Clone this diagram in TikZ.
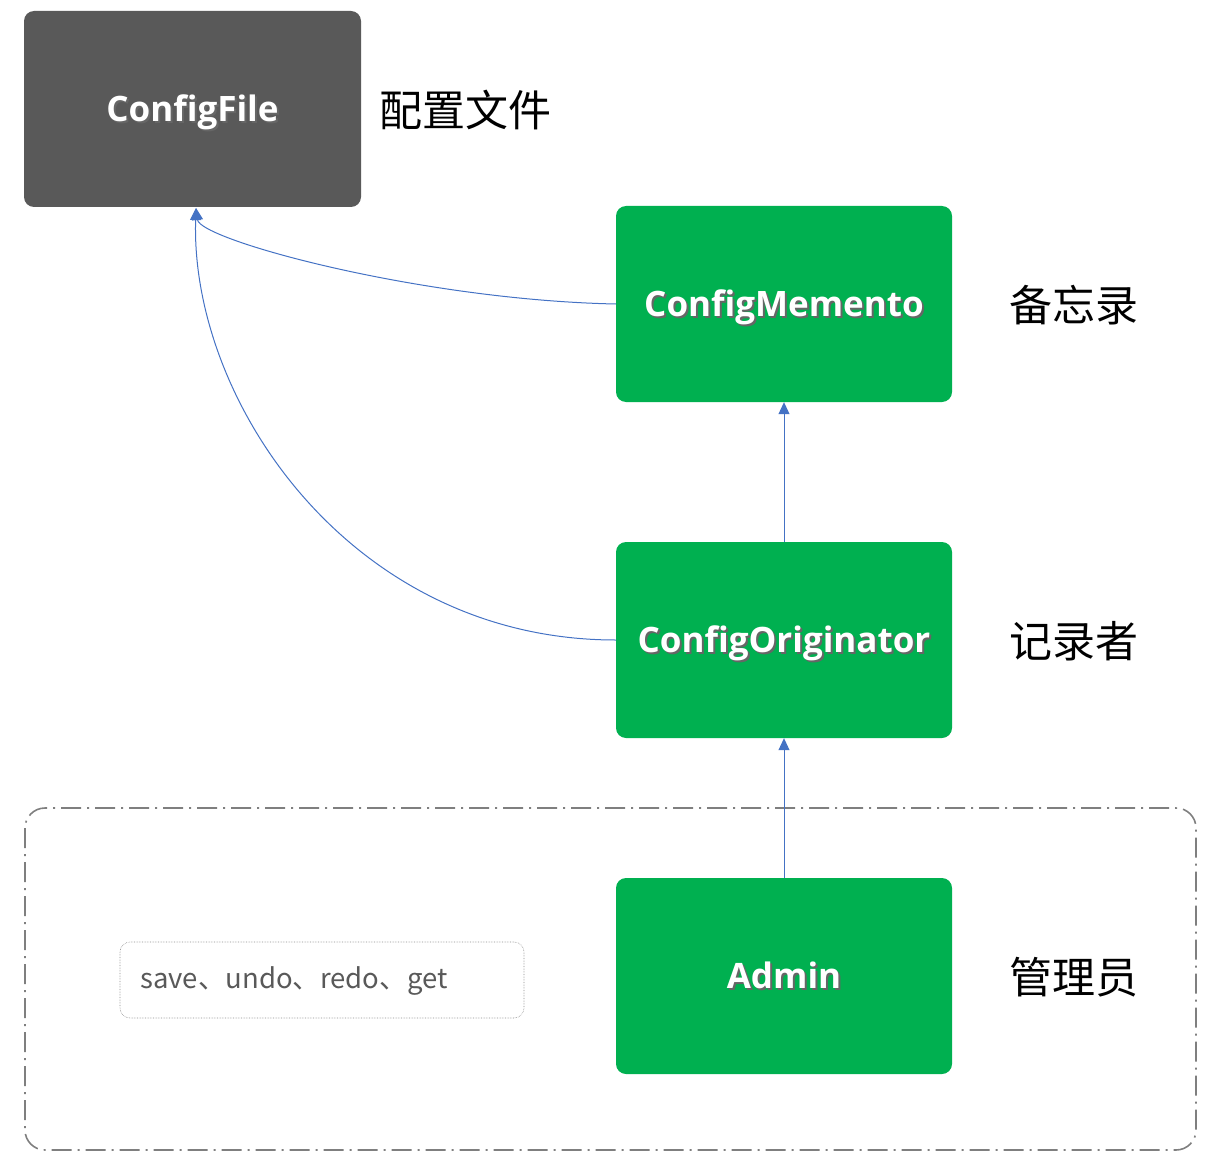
\documentclass[tikz,border=0pt]{standalone}
\usepackage{fontspec}
\setmainfont{Open Sans}
\newfontfamily\cjk{Noto Sans CJK SC}
\usetikzlibrary{arrows.meta}
\definecolor{boxgreen}{HTML}{00B050}
\definecolor{boxgray}{HTML}{595959}
\definecolor{arrblue}{HTML}{4472C4}
\definecolor{framegray}{HTML}{7F7F7F}
\definecolor{savegray}{HTML}{595959}
\newcommand\shtext[1]{\raisebox{-12.5pt}[0pt][0pt]{\rlap{\hspace{2pt}\raisebox{-2pt}{\color{black!60}#1}}#1}}
\tikzset{
  block/.style={rectangle, rounded corners=10pt, minimum width=336pt, minimum height=196pt,
    text=white, font=\fontsize{35}{42}\selectfont\bfseries, inner sep=0pt},
  greenblock/.style={block, fill=boxgreen},
  grayblock/.style={block, fill=boxgray, minimum width=337pt},
  cjklabel/.style={font=\cjk\fontsize{43}{50}\selectfont, text=black, anchor=west, inner sep=0pt},
  arr/.style={draw=arrblue, line width=1pt, -{Triangle[length=12pt,width=11pt]}, fill=none}
}
\begin{document}
\begin{tikzpicture}[x=1pt,y=-1pt]
\useasboundingbox (0,0) rectangle (1211,1153);
% container
\draw[framegray, line width=1.6pt, rounded corners=20pt, dash pattern=on 20pt off 6pt on 2pt off 6pt] (25,808) rectangle (1196,1150);
% save box
\node[draw=black!45, densely dotted, line width=0.6pt, rounded corners=10pt, minimum width=404pt, minimum height=76pt, inner sep=0pt] (savebox) at (322,980) {};
\node[anchor=west, inner sep=0pt, font=\cjk\fontsize{27.5}{32}\selectfont, text=savegray] (savetext) at (140,981) {save、undo、redo、get};
% blocks
\node[grayblock] (file) at (192.5,109) {\shtext{ConfigFile}};
\node[greenblock] (mem) at (784,304) {\shtext{ConfigMemento}};
\node[greenblock] (orig) at (784,640) {\shtext{ConfigOriginator}};
\node[greenblock] (admin) at (784,976) {\shtext{Admin}};
% labels
\node[cjklabel] (lfile) at (379,110) {配置文件};
\node[cjklabel] (lmem) at (1009,305) {备忘录};
\node[cjklabel] (lorig) at (1009,641) {记录者};
\node[cjklabel] (ladmin) at (1009,977) {管理员};
% arrows
\coordinate (filein) at (196,208);
\draw[arr] (mem.west) .. controls (420,300) and (200,240) .. (filein);
\draw[arr] (orig.west) .. controls (350,640) and (190,400) .. (filein);
\draw[arr] (orig.north) -- (mem.south);
\draw[arr] (admin.north) -- (orig.south);
\end{tikzpicture}
\end{document}
